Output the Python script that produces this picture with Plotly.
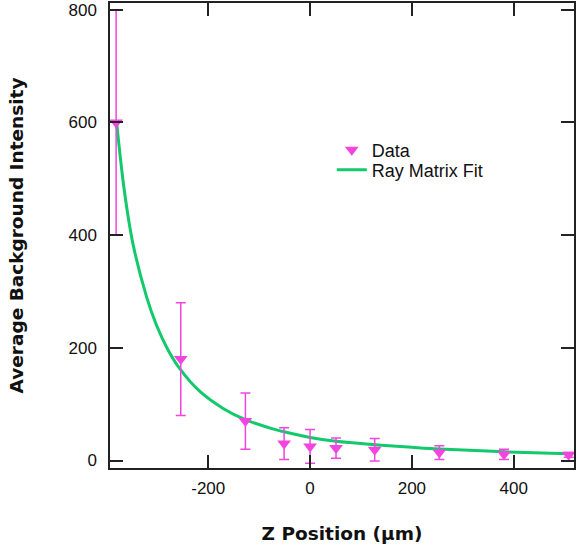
import plotly.graph_objects as go

# Measured background intensity at each Z position
z_pos = [-381, -254, -127, -51, 0, 51, 127, 254, 381, 508]
intensity = [600, 180, 70, 30, 25, 22, 19, 14, 11, 10]
intensity_err = [200, 100, 50, 28, 30, 18, 20, 12, 9, 4]

# Ray matrix fit curve sampled along Z
fit_z = [-380, -365, -348, -321, -302, -280, -256, -217, -170, -126, -80, -47, 0, 51, 127, 200, 254, 382, 507]
fit_y = [600, 480, 385, 290, 241, 198, 163, 123, 92, 72, 58, 50, 41, 34, 28, 23.5, 20.5, 15.5, 12]

x_ticks = [-200, 0, 200, 400]
x_tick_text = ["-200", "0", "200", "400"]
y_ticks = [0, 200, 400, 600, 800]

MAGENTA = "#F245E0"
GREEN = "#12C96C"
FONT = "Liberation Sans, Arial, sans-serif"
TITLE_FONT = "DejaVu Sans, sans-serif"

fig = go.Figure()

fig.add_trace(go.Scatter(
    x=fit_z, y=fit_y, mode="lines", name="Ray Matrix Fit",
    line=dict(color=GREEN, width=3, shape="spline", smoothing=1.0),
    legend="legend2",
))

fig.add_trace(go.Scatter(
    x=z_pos, y=intensity, mode="markers", name="Data",
    marker=dict(symbol="triangle-down", size=12, color=MAGENTA),
    error_y=dict(type="data", array=intensity_err, visible=True,
                 color=MAGENTA, thickness=1.5, width=5),
    legend="legend",
))

axis_common = dict(
    showline=True, linecolor="#222", linewidth=1.5, mirror="ticks",
    ticks="inside", ticklen=13, tickwidth=1.5, tickcolor="#222",
    showgrid=False, zeroline=False,
    tickfont=dict(family=FONT, size=17, color="#111"),
)

legend_common = dict(
    xanchor="left", yanchor="middle", bgcolor="rgba(0,0,0,0)",
    font=dict(family=FONT, size=18, color="#111"), itemwidth=30,
)

fig.update_layout(
    width=577, height=546,
    margin=dict(l=110, r=1, t=2, b=78),
    paper_bgcolor="white", plot_bgcolor="white",
    showlegend=True,
    legend=dict(x=0.478, y=0.684, **legend_common),
    legend2=dict(x=0.478, y=0.641, **legend_common),
    xaxis=dict(
        range=[-393, 518.5], tickvals=x_ticks, ticktext=x_tick_text,
        ticklabelstandoff=4,
        title=dict(text="<b>Z Position (µm)</b>", standoff=30,
                   font=dict(family=TITLE_FONT, size=18.5, color="#111")),
        **axis_common,
    ),
    yaxis=dict(
        range=[-13.3, 812], tickvals=y_ticks, ticklabelstandoff=8,
        title=dict(text="<b>Average Background Intensity</b>", standoff=40,
                   font=dict(family=TITLE_FONT, size=18.5, color="#111")),
        **axis_common,
    ),
)

fig.write_html("out.html")
